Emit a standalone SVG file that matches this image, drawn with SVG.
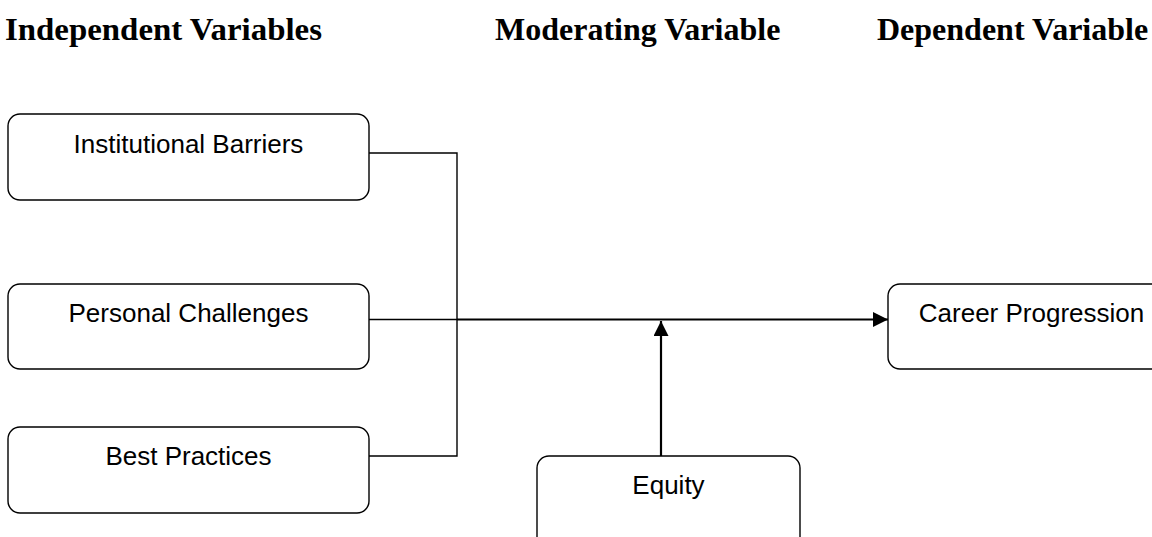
<svg xmlns="http://www.w3.org/2000/svg" width="1152" height="537" viewBox="0 0 1152 537">
  <style>
    .box { fill: #ffffff; stroke: #000000; stroke-width: 1.4; }
    .lbl { font-family: "Liberation Sans", Arial, sans-serif; font-size: 26px; fill: #000000; text-anchor: middle; }
    .hdr { font-family: "Liberation Serif", "Times New Roman", serif; font-size: 32px; font-weight: bold; fill: #000000; }
    .thin { fill: none; stroke: #000000; stroke-width: 1.4; }
    .thick { fill: none; stroke: #000000; stroke-width: 2.2; }
  </style>
  <defs>
    <marker id="arrow" markerUnits="userSpaceOnUse" markerWidth="16" markerHeight="15" refX="15" refY="7.5" orient="auto">
      <path d="M0,0 L15,7.5 L0,15 Z" fill="#000000"/>
    </marker>
  </defs>
  <rect width="1152" height="537" fill="#ffffff"/>

  <g id="headers">
    <text class="hdr" x="5" y="40" textLength="317" lengthAdjust="spacingAndGlyphs">Independent Variables</text>
    <text class="hdr" x="495" y="40">Moderating Variable</text>
    <text class="hdr" x="877" y="40">Dependent Variable</text>
  </g>

  <g id="connectors">
    <polyline class="thin" points="369,153 457,153 457,456 369,456"/>
    <line class="thin" x1="369" y1="319.5" x2="457" y2="319.5"/>
    <line class="thick" x1="457" y1="319.5" x2="888" y2="319.5" marker-end="url(#arrow)"/>
    <line class="thick" x1="661" y1="456" x2="661" y2="321" marker-end="url(#arrow)"/>
  </g>

  <g id="node-institutional-barriers">
    <rect class="box" x="8" y="114" width="361" height="86" rx="12" ry="12"/>
    <text class="lbl" x="188.5" y="153">Institutional Barriers</text>
  </g>
  <g id="node-personal-challenges">
    <rect class="box" x="8" y="284" width="361" height="85" rx="12" ry="12"/>
    <text class="lbl" x="188.5" y="322">Personal Challenges</text>
  </g>
  <g id="node-best-practices">
    <rect class="box" x="8" y="427" width="361" height="86" rx="12" ry="12"/>
    <text class="lbl" x="188.5" y="465">Best Practices</text>
  </g>
  <g id="node-career-progression">
    <rect class="box" x="888" y="284" width="361" height="85" rx="12" ry="12"/>
    <text class="lbl" x="1031.5" y="322">Career Progression</text>
  </g>
  <g id="node-equity">
    <rect class="box" x="537" y="456" width="263" height="100" rx="12" ry="12"/>
    <text class="lbl" x="668.5" y="494">Equity</text>
  </g>
</svg>
